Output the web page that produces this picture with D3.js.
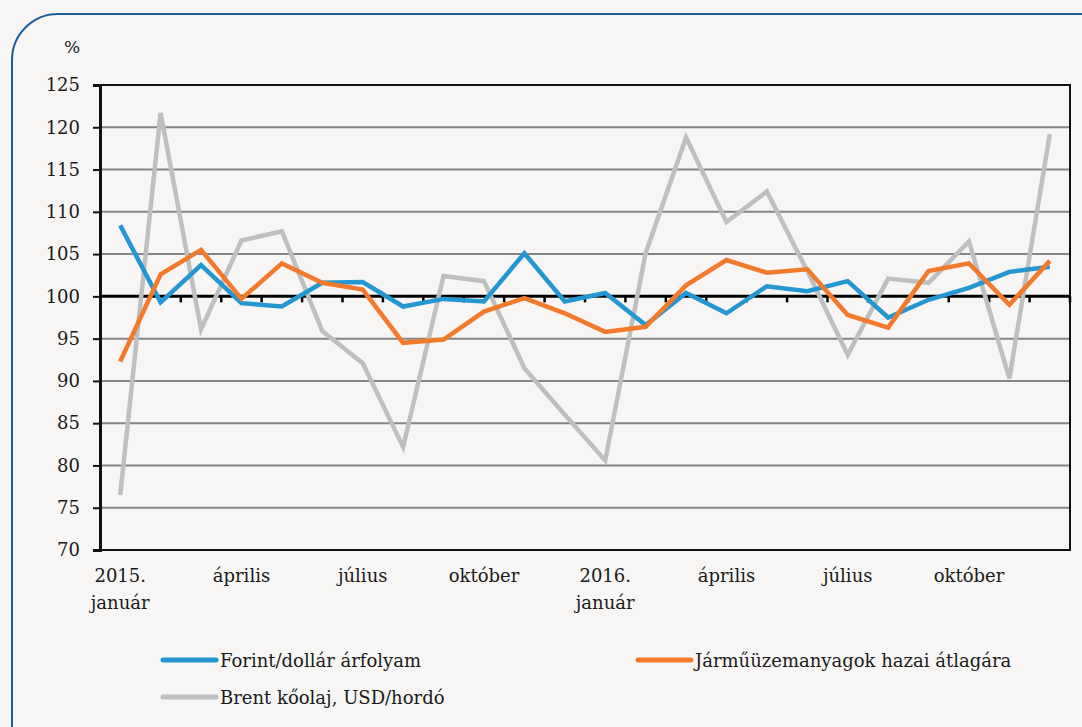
<!DOCTYPE html>
<html>
<head>
<meta charset="utf-8">
<script src="https://cdn.jsdelivr.net/npm/d3@7"></script>
<style>
  html, body { margin: 0; padding: 0; background: #f7f6f4; }
  svg { display: block; }
</style>
</head>
<body>
<svg id="chart" width="1082" height="727"></svg>
<script>
const months = ["2015. jan","feb","már","ápr","máj","jún","júl","aug","szep","okt","nov","dec",
                "2016. jan","feb","már","ápr","máj","jún","júl","aug","szep","okt","nov","dec"];
const tickLabels = [
  {i: 0, lines: ["2015.", "január"]},
  {i: 3, lines: ["április"]},
  {i: 6, lines: ["július"]},
  {i: 9, lines: ["október"]},
  {i: 12, lines: ["2016.", "január"]},
  {i: 15, lines: ["április"]},
  {i: 18, lines: ["július"]},
  {i: 21, lines: ["október"]}
];
const yTicks = [70, 75, 80, 85, 90, 95, 100, 105, 110, 115, 120, 125];

const forint = [108.4, 99.3, 103.7, 99.2, 98.8, 101.6, 101.7, 98.8, 99.7, 99.4, 105.1, 99.4,
                100.4, 96.6, 100.4, 98.0, 101.2, 100.6, 101.8, 97.5, 99.6, 101.0, 102.9, 103.5];
const fuel   = [92.3, 102.6, 105.5, 99.7, 103.9, 101.6, 100.8, 94.5, 94.9, 98.2, 99.8, 98.0,
                95.8, 96.4, 101.3, 104.3, 102.8, 103.2, 97.8, 96.3, 103.0, 103.9, 99.0, 104.2];
const brent  = [76.5, 121.7, 96.1, 106.6, 107.7, 95.9, 92.1, 82.2, 102.4, 101.8, 91.5, 86.0,
                80.6, 105.1, 118.8, 108.8, 112.4, 103.0, 93.1, 102.1, 101.6, 106.5, 90.3, 119.2];

const seriesNames = ["Forint/dollár árfolyam", "Járműüzemanyagok hazai átlagára", "Brent kőolaj, USD/hordó"];
const seriesColors = ["#2496d2", "#f47a2b", "#bdbfc1"];

const FONT = "'DejaVu Serif', serif";

const svg = d3.select("#chart");

svg.append("rect")
  .attr("x", 12).attr("y", 14).attr("width", 1120).attr("height", 760)
  .attr("rx", 46).attr("ry", 46)
  .attr("fill", "#f7f6f4").attr("stroke", "#1f5c9c").attr("stroke-width", 2);

const L = 100, R = 1070, T = 85, B = 550;
const x = d3.scaleBand().domain(d3.range(months.length)).range([L, R]);
const y = d3.scaleLinear().domain([70, 125]).range([B, T]);

svg.append("g").selectAll("line")
  .data(yTicks.filter(v => v !== 70 && v !== 100 && v !== 125))
  .join("line")
  .attr("x1", L).attr("x2", R)
  .attr("y1", d => y(d)).attr("y2", d => y(d))
  .attr("stroke", "#858585").attr("stroke-width", 2);

svg.append("rect")
  .attr("x", L).attr("y", y(125)).attr("width", R - L).attr("height", y(70) - y(125))
  .attr("fill", "none").attr("stroke", "#111").attr("stroke-width", 2);

const yAxis = d3.axisLeft(y).tickValues(yTicks).tickSize(7).tickPadding(13);
const gy = svg.append("g").attr("transform", `translate(${L},0)`).call(yAxis)
  .attr("font-family", FONT).attr("font-size", 18);
gy.select(".domain").attr("stroke", "#111").attr("stroke-width", 3);
gy.selectAll(".tick line").attr("stroke", "#111").attr("stroke-width", 2);
gy.selectAll(".tick text").attr("fill", "#1a1a1a");

svg.append("line")
  .attr("x1", L).attr("x2", R).attr("y1", y(100)).attr("y2", y(100))
  .attr("stroke", "#000").attr("stroke-width", 3);
const boundaries = d3.range(1, months.length + 1).map(i => i === months.length ? R : x(i));
svg.append("g").selectAll("line").data(boundaries).join("line")
  .attr("x1", d => d).attr("x2", d => d)
  .attr("y1", y(100)).attr("y2", y(100) + 6)
  .attr("stroke", "#000").attr("stroke-width", 2.5);

const xl = svg.append("g").attr("font-family", FONT).attr("font-size", 18).attr("fill", "#1a1a1a");
tickLabels.forEach(t => {
  const cx = x(t.i) + x.bandwidth() / 2;
  const txt = xl.append("text").attr("text-anchor", "middle");
  t.lines.forEach((ln, k) => {
    txt.append("tspan").attr("x", cx).attr("y", 582 + k * 27).text(ln);
  });
});

svg.append("text").attr("x", 72).attr("y", 53).attr("text-anchor", "middle")
  .attr("font-family", FONT).attr("font-size", 17).attr("fill", "#1a1a1a").text("%");

const line = d3.line().x((d, i) => x(i) + x.bandwidth() / 2).y(d => y(d));
[brent, forint, fuel].forEach((s, k) => {
  const idx = [2, 0, 1][k];
  svg.append("path").datum(s).attr("d", line)
    .attr("fill", "none").attr("stroke", seriesColors[idx])
    .attr("stroke-width", 4.5).attr("stroke-linejoin", "miter");
});

const legendPos = [{x: 163, y: 660}, {x: 638, y: 660}, {x: 163, y: 697}];
seriesNames.forEach((n, k) => {
  const p = legendPos[k];
  svg.append("line").attr("x1", p.x).attr("x2", p.x + 53).attr("y1", p.y).attr("y2", p.y)
    .attr("stroke", seriesColors[k]).attr("stroke-width", 5).attr("stroke-linecap", "round");
  svg.append("text").attr("x", p.x + 57).attr("y", p.y + 7)
    .attr("font-family", FONT).attr("font-size", 18).attr("fill", "#1a1a1a").text(n);
});
</script>
</body>
</html>
